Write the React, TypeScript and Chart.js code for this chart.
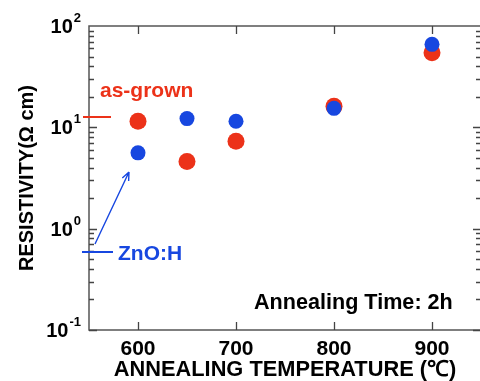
import React, { useEffect, useRef } from 'react';
import { Chart, registerables } from 'chart.js';

Chart.register(...registerables);

const temperatures = [600, 650, 700, 800, 900];
const asGrownResistivity = [11.5, 4.6, 7.3, 16.1, 54.5];
const znoHResistivity = [5.6, 12.2, 11.5, 15.4, 65.9];
const xTickValues = [600, 700, 800, 900];
const yDecadeExponents = [-1, 0, 1, 2];
const seriesLabels = ['as-grown', 'ZnO:H'];
const yTitle = 'RESISTIVITY(Ω cm)';
const xTitle = 'ANNEALING TEMPERATURE (℃)';
const noteText = 'Annealing Time: 2h';

const RED = '#ec3219';
const BLUE = '#1747e0';
const FONT = '"Liberation Sans", Arial, sans-serif';

const decorPlugin = {
  id: 'decor',
  beforeDatasetsDraw(chart: any) {
    const { ctx, chartArea } = chart;
    const { left, right, top, bottom } = chartArea;
    const xs = chart.scales.x;
    const ys = chart.scales.y;
    ctx.save();
    ctx.strokeStyle = '#555';
    ctx.lineWidth = 1.5;
    ctx.strokeRect(left, top, right - left, bottom - top);
    ctx.strokeStyle = '#444';
    ctx.lineWidth = 1.3;
    ctx.beginPath();
    for (let e = -1; e <= 1; e++) {
      for (let m = 1; m <= 9; m++) {
        const v = m * Math.pow(10, e);
        const py = Math.round(ys.getPixelForValue(v)) + 0.5;
        const len = m === 1 ? 8 : 5;
        ctx.moveTo(left, py);
        ctx.lineTo(left + len, py);
        ctx.moveTo(right, py);
        ctx.lineTo(right - len, py);
      }
    }
    for (const t of xTickValues) {
      const px = Math.round(xs.getPixelForValue(t)) + 0.5;
      ctx.moveTo(px, top);
      ctx.lineTo(px, top + 8);
      ctx.moveTo(px, bottom);
      ctx.lineTo(px, bottom - 8);
    }
    ctx.stroke();
    ctx.restore();
  },
  afterDraw(chart: any) {
    const { ctx, chartArea } = chart;
    const ys = chart.scales.y;
    ctx.save();
    ctx.fillStyle = '#000';
    ctx.textBaseline = 'alphabetic';
    ctx.textAlign = 'left';
    const baseFont = `bold 20px ${FONT}`;
    const expFont = `bold 13px ${FONT}`;
    for (const e of yDecadeExponents) {
      const py = ys.getPixelForValue(Math.pow(10, e));
      const expStr = String(e);
      ctx.font = baseFont;
      const w10 = ctx.measureText('10').width;
      ctx.font = expFont;
      const wexp = ctx.measureText(expStr).width;
      const rightEdge = chartArea.left - 8;
      const x0 = rightEdge - wexp - w10 - 1;
      ctx.font = baseFont;
      ctx.fillText('10', x0, py + 7);
      ctx.font = expFont;
      ctx.fillText(expStr, x0 + w10 + 1, py - 4);
    }

    ctx.font = `bold 21px ${FONT}`;
    ctx.fillStyle = RED;
    ctx.fillText(seriesLabels[0], 100, 97);
    ctx.strokeStyle = RED;
    ctx.lineWidth = 2;
    ctx.beginPath();
    ctx.moveTo(83, 117);
    ctx.lineTo(111, 117);
    ctx.stroke();

    ctx.fillStyle = BLUE;
    ctx.fillText(seriesLabels[1], 118, 260);
    ctx.strokeStyle = BLUE;
    ctx.lineWidth = 2;
    ctx.beginPath();
    ctx.moveTo(82, 252);
    ctx.lineTo(113, 252);
    ctx.stroke();
    const ax0 = 95, ay0 = 244, ax1 = 129, ay1 = 172;
    ctx.lineWidth = 1.4;
    ctx.beginPath();
    ctx.moveTo(ax0, ay0);
    ctx.lineTo(ax1, ay1);
    const ang = Math.atan2(ay1 - ay0, ax1 - ax0);
    const hl = 9;
    const spread = 0.4;
    ctx.moveTo(ax1, ay1);
    ctx.lineTo(ax1 - hl * Math.cos(ang - spread), ay1 - hl * Math.sin(ang - spread));
    ctx.moveTo(ax1, ay1);
    ctx.lineTo(ax1 - hl * Math.cos(ang + spread), ay1 - hl * Math.sin(ang + spread));
    ctx.stroke();

    ctx.font = `bold 21.6px ${FONT}`;
    ctx.fillStyle = '#000';
    ctx.fillText(noteText, 254, 309);
    ctx.restore();
  },
};

export default function App() {
  const canvasRef = useRef<HTMLCanvasElement | null>(null);

  useEffect(() => {
    const canvas = canvasRef.current;
    if (!canvas) return;
    const chart = new Chart(canvas, {
      type: 'scatter',
      data: {
        datasets: [
          {
            label: seriesLabels[0],
            data: temperatures.map((t, i) => ({ x: t, y: asGrownResistivity[i] })),
            backgroundColor: RED,
            borderWidth: 0,
            pointRadius: 8.5,
            pointHoverRadius: 8.5,
            order: 1,
          },
          {
            label: seriesLabels[1],
            data: temperatures.map((t, i) => ({ x: t, y: znoHResistivity[i] })),
            backgroundColor: BLUE,
            borderWidth: 0,
            pointRadius: 7.5,
            pointHoverRadius: 7.5,
            order: 0,
          },
        ],
      },
      options: {
        responsive: false,
        animation: false,
        events: [],
        layout: { padding: { top: 26, right: 9, left: 0, bottom: 0 } },
        plugins: {
          legend: { display: false },
          tooltip: { enabled: false },
        },
        scales: {
          x: {
            type: 'linear',
            min: 550,
            max: 950,
            afterBuildTicks: (s: any) => {
              s.ticks = xTickValues.map((v) => ({ value: v }));
            },
            afterFit: (s: any) => {
              s.height = 51;
            },
            grid: { display: false, drawTicks: false },
            border: { display: false },
            ticks: {
              color: '#000',
              padding: 7,
              font: { family: FONT, size: 21, weight: 'bold' },
              callback: (v: any) => String(v),
            },
            title: {
              display: true,
              text: xTitle,
              color: '#000',
              font: { family: FONT, size: 21.8, weight: 'bold', lineHeight: 1 },
              padding: { top: 0, bottom: 0.5 },
            },
          },
          y: {
            type: 'logarithmic',
            min: 0.1,
            max: 100,
            afterFit: (s: any) => {
              s.width = 89;
            },
            grid: { display: false, drawTicks: false },
            border: { display: false },
            ticks: { display: false },
            title: {
              display: true,
              text: yTitle,
              color: '#000',
              font: { family: FONT, size: 20, weight: 'bold', lineHeight: 1.2 },
              padding: { top: 15, bottom: 0 },
            },
          },
        },
      },
      plugins: [decorPlugin],
    });
    return () => chart.destroy();
  }, []);

  return (
    <div
      style={{
        position: 'fixed',
        left: 0,
        top: 0,
        width: 480,
        height: 381,
        overflow: 'hidden',
        background: '#fff',
      }}
    >
      <canvas ref={canvasRef} width={490} height={381} style={{ display: 'block' }} />
    </div>
  );
}
